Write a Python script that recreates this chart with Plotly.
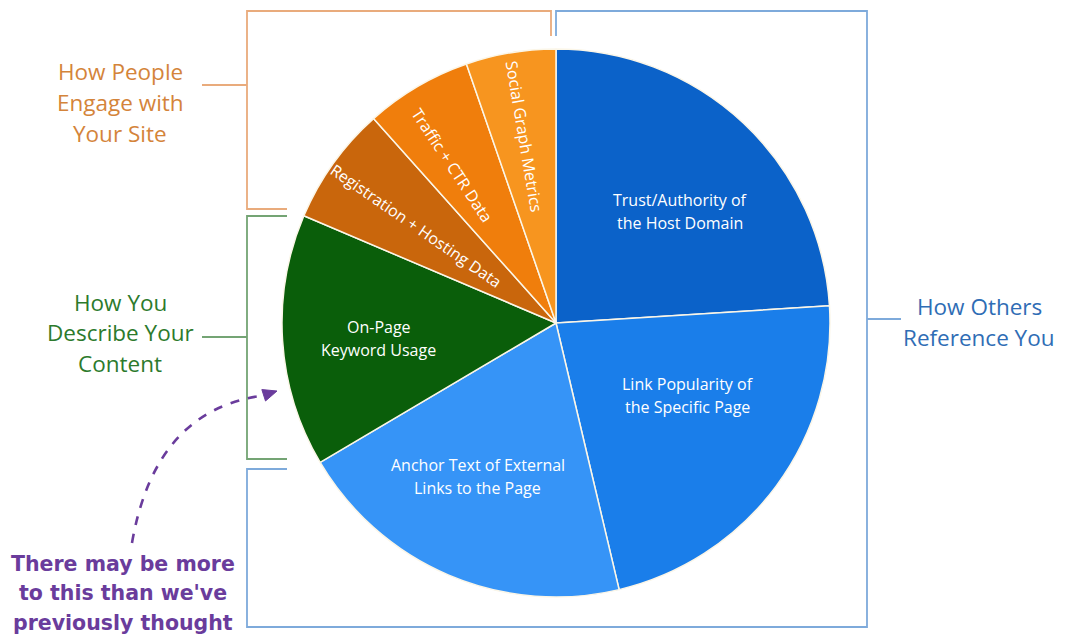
import math
import plotly.graph_objects as go

# Ranking factor shares (percent)
factors = [
    "Trust/Authority of the Host Domain",
    "Link Popularity of the Specific Page",
    "Anchor Text of External Links to the Page",
    "On-Page Keyword Usage",
    "Registration + Hosting Data",
    "Traffic + CTR Data",
    "Social Graph Metrics",
]
shares = [24.0, 22.3, 20.2, 14.9, 7.0, 6.3, 5.3]
slice_colors = ["#0b62c9", "#1a7eea", "#3694f7", "#0a5e0a", "#c9660c", "#f07e0c", "#f7951f"]

# Wrapped slice labels, and how each is laid out inside its slice
label_lines = [
    ["Trust/Authority of", "the Host Domain"],
    ["Link Popularity of", "the Specific Page"],
    ["Anchor Text of External", "Links to the Page"],
    ["On-Page", "Keyword Usage"],
    ["Registration + Hosting Data"],
    ["Traffic + CTR Data"],
    ["Social Graph Metrics"],
]
label_radius = [0.61, 0.55, 0.63, 0.65, 0.62, 0.69, 0.69]
label_nudge_deg = [4.8, -7.6, 3.9, -1.1, -1.0, -3.0, 0.0]
label_radial = [False, False, False, False, True, True, True]

W, H = 1065, 636
CX, CY, R = 556, 323, 274  # pie centre and radius in pixels


def px(x):
    return x / W


def py(y):
    return 1 - y / H


fig = go.Figure()
fig.add_trace(go.Pie(
    labels=factors,
    values=shares,
    sort=False,
    direction="clockwise",
    rotation=0,
    marker=dict(colors=slice_colors, line=dict(color="#fbf6e8", width=1.5)),
    textinfo="none",
    hoverinfo="label+percent",
    showlegend=False,
    domain=dict(x=[px(CX - R), px(CX + R)], y=[py(CY + R), py(CY - R)]),
))

annotations = []


def add_text_block(lines, x, y, spacing, font, angle=0):
    n = len(lines)
    for i, line in enumerate(lines):
        off = (i - (n - 1) / 2) * spacing
        annotations.append(dict(
            text=line, x=px(x), y=py(y + off), xref="paper", yref="paper",
            showarrow=False, font=font, textangle=angle,
            xanchor="center", yanchor="middle",
        ))


# Slice labels placed from the cumulative shares
total = sum(shares)
cum = 0
slice_font = dict(family="Open Sans, sans-serif", size=16, color="white")
for lines, v, rf, nd, radial in zip(label_lines, shares, label_radius, label_nudge_deg, label_radial):
    mid = (cum + v / 2) / total * 360 + nd
    cum += v
    t = math.radians(mid)
    lx = CX + R * rf * math.sin(t)
    ly = CY - R * rf * math.cos(t)
    if radial:
        add_text_block(lines, lx, ly, 23, slice_font, angle=mid - 270)
    else:
        add_text_block(lines, lx, ly, 23, slice_font)

# Group labels
orange_txt, green_txt, blue_txt, purple = "#d4843a", "#2c7a2c", "#2f6db5", "#6a3c9c"
orange_ln, green_ln, blue_ln = "#e9ab7c", "#74a474", "#7eaadb"
grp_font = "Open Sans, sans-serif"
add_text_block(["How People", "Engage with", "Your Site"], 120, 102.5, 30.5,
               dict(family=grp_font, size=22.5, color=orange_txt))
add_text_block(["How You", "Describe Your", "Content"], 120, 332.5, 30.5,
               dict(family=grp_font, size=22.5, color=green_txt))
add_text_block(["How Others", "Reference You"], 979, 322, 30.5,
               dict(family=grp_font, size=22.5, color=blue_txt))
add_text_block(["There may be more", "to this than we've", "previously thought"], 123, 593, 29.5,
               dict(family="DejaVu Sans, Verdana, sans-serif", size=20.5, color=purple))
for a in annotations[-3:]:
    a["text"] = "<b>" + a["text"] + "</b>"

shapes = []


def polyline(points, color, width=1.8, dash="solid"):
    path = "M " + " L ".join(f"{px(x):.5f},{py(y):.5f}" for x, y in points)
    shapes.append(dict(type="path", path=path, xref="paper", yref="paper",
                       line=dict(color=color, width=width, dash=dash)))


# Brackets around the slice groups
polyline([(287, 209), (247, 209), (247, 11), (551, 11), (551, 36)], orange_ln)
polyline([(202, 85), (247, 85)], orange_ln)
polyline([(287, 216), (247, 216), (247, 459), (287, 459)], green_ln)
polyline([(202, 337), (247, 337)], green_ln)
polyline([(287, 469), (247, 469), (247, 627), (867, 627), (867, 11), (556, 11), (556, 36)], blue_ln)
polyline([(867, 319), (901, 319)], blue_ln)

# Dashed curved pointer toward the keyword slice
p0, c, p1 = (132, 543), (155, 410), (263, 395.5)
path = (f"M {px(p0[0]):.5f},{py(p0[1]):.5f} "
        f"Q {px(c[0]):.5f},{py(c[1]):.5f} {px(p1[0]):.5f},{py(p1[1]):.5f}")
shapes.append(dict(type="path", path=path, xref="paper", yref="paper",
                   line=dict(color=purple, width=2.6, dash="dash")))
tip = (277, 391)
dx, dy = tip[0] - p1[0], tip[1] - p1[1]
L = math.hypot(dx, dy)
ux, uy = dx / L, dy / L
nx, ny = -uy, ux
bx, by = tip[0] - 14 * ux, tip[1] - 14 * uy
head = [(tip[0], tip[1]), (bx + 6 * nx, by + 6 * ny), (bx - 6 * nx, by - 6 * ny)]
hp = "M " + " L ".join(f"{px(x):.5f},{py(y):.5f}" for x, y in head) + " Z"
shapes.append(dict(type="path", path=hp, xref="paper", yref="paper",
                   fillcolor=purple, line=dict(color=purple, width=1)))

fig.update_layout(
    width=W, height=H,
    margin=dict(l=0, r=0, t=0, b=0),
    paper_bgcolor="white", plot_bgcolor="white",
    annotations=annotations,
    shapes=shapes,
)
fig.write_html("out.html")
